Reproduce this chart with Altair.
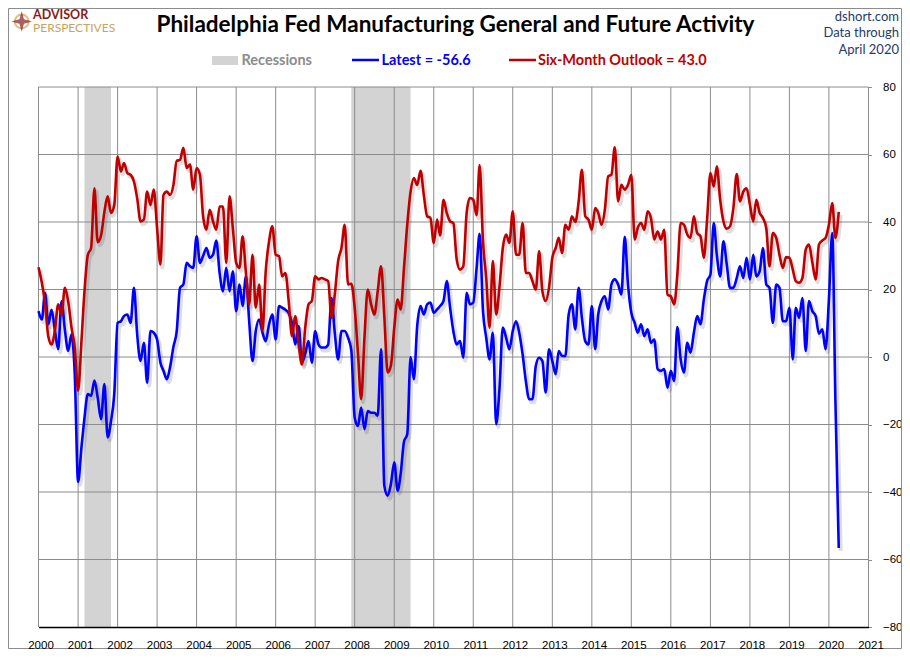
import altair as alt
import pandas as pd

# monthly readings, Jan 2000 .. Apr 2020
general = [
    13.6, 11.1, 19.0, 9.7, 14.0, 7.7, 2.3, 16.5, 8.0, 1.8,
    6.7, -5.0, -37.0, -26.8, -18.0, -11.0, -11.5, -7.0, -12.0, -18.4,
    -8.0, -23.8, -19.0, -11.0, 10.1, 10.6, 12.1, 12.6, 10.1, 20.5,
    6.7, -1.2, 4.2, -7.6, 7.7, 7.2, 5.2, -1.7, -4.1, -6.6,
    -3.0, 3.0, 7.5, 20.5, 21.5, 27.9, 26.9, 26.4, 35.8, 27.9,
    29.9, 32.3, 29.4, 30.3, 34.5, 24.9, 19.5, 26.4, 19.5, 25.4,
    13.6, 21.5, 15.1, 23.9, 10.6, -1.2, 7.7, 11.1, 7.2, 4.7,
    9.7, 12.6, 5.2, 15.1, 14.6, 14.0, 13.0, 10.0, 3.7, 9.2,
    -1.7, 1.0, 4.7, -1.7, 7.7, 3.7, 2.8, 2.8, 3.7, 17.5,
    7.2, -0.7, 7.7, 7.7, 5.7, 2.0, -17.9, -20.4, -15.0, -21.4,
    -16.0, -16.5, -16.5, -17.4, 2.3, -38.1, -41.1, -37.6, -31.2, -39.6,
    -34.7, -25.1, -22.9, 0.0, -6.6, 9.2, 15.1, 12.6, 15.6, 16.1,
    13.1, 14.1, 15.1, 16.6, 22.5, 14.6, 7.7, 3.7, 4.7, -0.2,
    19.0, 15.6, 16.1, 26.4, 36.5, 13.6, 5.7, -0.7, 7.2, -19.9,
    -9.1, 8.7, 5.7, 2.3, 7.7, 10.6, 7.2, 0.8, -7.1, -12.5,
    -12.5, -2.7, -0.2, -1.2, -10.5, 2.3, -1.2, -5.1, 1.8, 0.3,
    0.3, 12.6, 15.6, 8.2, 20.5, 11.6, 4.7, 3.7, 15.1, 2.3,
    12.6, 16.6, 18.0, 14.1, 21.5, 23.0, 21.5, 18.5, 35.6, 21.5,
    13.1, 10.1, 7.2, 9.7, 6.2, 8.2, 4.2, 5.2, -3.6, -4.1,
    -3.6, -9.1, -4.1, -7.1, 8.9, -0.7, -4.6, 4.2, 1.3, 7.2,
    12.1, 9.7, 17.0, 22.5, 24.4, 39.7, 30.3, 23.9, 34.3, 27.4,
    20.5, 20.5, 23.4, 26.9, 23.4, 29.4, 23.0, 30.3, 23.9, 25.4,
    32.3, 21.5, 20.5, 10.1, 21.5, 20.5, 10.6, 10.6, 14.6, -0.7,
    14.6, 11.6, 17.5, 1.8, 16.6, 13.6, 12.1, 6.9, 8.2, 2.3,
    17.0, 36.7, -12.7, -56.6,
]

outlook = [
    26.6, 22.0, 16.0, 6.0, 3.7, 8.0, 15.6, 12.6, 20.5, 16.5,
    8.7, 2.8, -10.0, 4.7, 19.5, 30.3, 32.3, 50.0, 34.0, 36.0,
    43.0, 47.6, 42.7, 45.0, 59.4, 55.0, 57.5, 54.5, 54.0, 52.0,
    47.0, 40.2, 40.7, 49.0, 45.0, 49.6, 38.2, 27.4, 48.0, 49.0,
    48.0, 51.0, 58.1, 58.4, 62.0, 56.0, 57.0, 49.6, 56.0, 54.0,
    41.7, 37.7, 43.6, 40.2, 37.7, 44.6, 44.6, 27.9, 47.6, 38.2,
    27.9, 26.4, 35.8, 24.9, 15.6, 30.3, 14.6, 21.5, 7.7, 25.4,
    34.3, 38.7, 30.3, 29.9, 23.9, 24.9, 16.6, 6.2, 12.1, 3.7,
    -2.2, 8.7, 15.6, 16.6, 23.9, 23.0, 23.4, 23.0, 22.5, 11.6,
    18.5, 28.4, 32.3, 39.2, 21.5, 21.7, 14.6, 0.8, -12.5, 6.0,
    20.0, 15.6, 12.6, 19.5, 26.9, 12.0, -4.6, -2.5, 8.7, 17.0,
    14.1, 26.4, 39.2, 49.0, 53.0, 51.0, 55.2, 48.0, 41.7, 41.2,
    33.8, 40.7, 36.0, 46.6, 42.7, 40.2, 39.7, 28.9, 25.9, 26.9,
    42.7, 47.1, 46.6, 42.0, 56.9, 34.3, 23.4, 8.7, 28.4, 12.6,
    21.0, 32.3, 36.3, 33.8, 43.2, 30.3, 30.3, 39.7, 24.9, 24.9,
    22.5, 20.0, 31.3, 19.5, 16.6, 20.5, 29.4, 32.3, 35.3, 30.8,
    39.2, 37.7, 41.7, 40.0, 46.0, 55.5, 41.7, 40.7, 37.7, 44.1,
    42.7, 39.2, 43.6, 53.5, 54.0, 62.1, 46.1, 51.0, 49.6, 51.0,
    54.0, 34.8, 38.2, 39.7, 37.7, 43.2, 41.2, 34.8, 37.2, 34.8,
    37.7, 18.5, 18.0, 15.6, 24.4, 39.7, 39.2, 36.3, 35.3, 41.7,
    36.7, 35.8, 29.4, 40.7, 54.5, 50.5, 56.5, 46.6, 40.2, 38.0,
    38.7, 44.1, 54.2, 46.1, 49.0, 50.0, 45.1, 40.2, 46.6, 42.7,
    41.2, 38.2, 26.9, 36.7, 35.3, 30.3, 26.4, 29.6, 29.4, 25.9,
    22.5, 22.0, 23.4, 31.8, 33.3, 28.0, 23.0, 33.3, 34.5, 35.3,
    39.2, 45.6, 35.3, 43.0,
]

rec_start = ["2001-03-01", "2007-12-01"]
rec_end = ["2001-11-01", "2009-06-01"]
years = list(range(2000, 2022))
grid_levels = list(range(-60, 81, 20))
y_ticks = list(range(-80, 81, 20))

W, H = 830, 540
GRID = "#8C8C8C"
BLUE = "#0000FF"
RED = "#C00000"
NAVY = "#1F3A70"

months = pd.date_range("2000-01-01", periods=len(general), freq="MS")
df = pd.concat([
    pd.DataFrame({"date": months, "value": general, "series": "General"}),
    pd.DataFrame({"date": months, "value": outlook, "series": "Outlook"}),
])
rec_df = pd.DataFrame({"start": rec_start, "end": rec_end})
year_df = pd.DataFrame({"date": [f"{y}-01-01" for y in years]})
level_df = pd.DataFrame({"value": grid_levels})

x_scale = alt.Scale(domain=[alt.DateTime(year=2000, month=1, date=1),
                            alt.DateTime(year=2021, month=1, date=1)])
y_scale = alt.Scale(domain=[-80, 80], nice=False)

x_axis = alt.Axis(
    values=[alt.DateTime(year=y, month=1, date=1) for y in years],
    format="%Y", grid=False, ticks=False, domainColor="black",
    domainWidth=1.5, labelFont="Liberation Sans", labelFontSize=11.5,
    labelColor="black", labelPadding=12, labelOffset=2,
    labelFlush=False, labelOverlap=False, zindex=1,
)
y_axis = alt.Axis(
    orient="right", values=y_ticks, grid=False, domain=False,
    tickSize=3, tickColor=GRID, labelFont="Liberation Sans",
    labelFontSize=11.5, labelColor="black", labelPadding=11,
    labelAlign="left", labelFlush=False, labelOverlap=False,
)

recessions = alt.Chart(rec_df).mark_rect(color="#D3D3D3").encode(
    x=alt.X("start:T", scale=x_scale, axis=x_axis, title=None),
    x2="end:T",
    y=alt.value(0),
    y2=alt.value(H),
)

vgrid = alt.Chart(year_df).mark_rule(color=GRID, strokeWidth=1).encode(
    x=alt.X("date:T", scale=x_scale, axis=x_axis, title=None),
    y=alt.value(0),
    y2=alt.value(H),
)

hgrid = alt.Chart(level_df).mark_rule(color=GRID, strokeWidth=1).encode(
    y=alt.Y("value:Q", scale=y_scale, axis=y_axis, title=None),
    x=alt.value(0),
    x2=alt.value(W),
)

shadow = alt.Chart(df).mark_line(
    interpolate="monotone", strokeWidth=4, color="#000000", opacity=0.13,
    xOffset=2, yOffset=3,
).encode(
    x=alt.X("date:T", scale=x_scale, axis=x_axis, title=None),
    y=alt.Y("value:Q", scale=y_scale, axis=y_axis, title=None),
    detail="series:N",
)

lines = alt.Chart(df).mark_line(interpolate="monotone", strokeWidth=2.6).encode(
    x=alt.X("date:T", scale=x_scale, axis=x_axis, title=None),
    y=alt.Y("value:Q", scale=y_scale, axis=y_axis, title=None),
    color=alt.Color("series:N", legend=None,
                    scale=alt.Scale(domain=["General", "Outlook"], range=[BLUE, RED])),
)


def text(t, x, y, size, color, weight="normal", align="left", font="Lato"):
    return alt.Chart(pd.DataFrame({"t": [t]})).mark_text(
        align=align, baseline="alphabetic", font=font, fontSize=size,
        fontWeight=weight, color=color,
    ).encode(x=alt.value(x), y=alt.value(y), text="t:N")


one = pd.DataFrame({"a": [0]})

frame = alt.Chart(one).mark_rect(filled=False, stroke="#8C8C8C", strokeWidth=1).encode(
    x=alt.value(-30), x2=alt.value(863), y=alt.value(-78.5), y2=alt.value(561.5)
)

title = text("Philadelphia Fed Manufacturing General and Future Activity",
             417, -55, 22.5, "black", "bold", "center")

logo_ring = alt.Chart(one).mark_point(
    shape="circle", size=190, stroke="#C9A45C", strokeWidth=2, filled=False
).encode(x=alt.value(-16.8), y=alt.value(-65.5))
logo_star = alt.Chart(one).mark_point(
    shape="M0,-1L0.22,-0.22L1,0L0.22,0.22L0,1L-0.22,0.22L-1,0L-0.22,-0.22Z",
    size=420, fill="#8B1A1A", filled=True, strokeWidth=0,
).encode(x=alt.value(-16.8), y=alt.value(-65.5))
advisor = text("ADVISOR", -5.5, -68.5, 12.5, "#8B1A1A", "bold")
perspectives = text("PERSPECTIVES", -5.5, -55.5, 12, "#C9A45C")

src1 = text("dshort.com", 860.5, -66.5, 13, NAVY, align="right")
src2 = text("Data through", 860.5, -50, 13, NAVY, align="right")
src3 = text("April 2020", 860.5, -33, 13, NAVY, align="right")

leg_rect = alt.Chart(one).mark_rect(color="#D3D3D3").encode(
    x=alt.value(173.5), x2=alt.value(199.5), y=alt.value(-31), y2=alt.value(-22)
)
leg_rec_txt = text("Recessions", 203, -22, 14.5, "#8C8C8C", "bold")
leg_blue = alt.Chart(one).mark_rule(color=BLUE, strokeWidth=2.5).encode(
    x=alt.value(313.5), x2=alt.value(340.5), y=alt.value(-27)
)
leg_blue_txt = text("Latest = -56.6", 343, -22, 14.5, BLUE, "bold")
leg_red = alt.Chart(one).mark_rule(color=RED, strokeWidth=2.5).encode(
    x=alt.value(470.5), x2=alt.value(497.5), y=alt.value(-27)
)
leg_red_txt = text("Six-Month Outlook = 43.0", 499.5, -22, 14.5, RED, "bold")

chart = alt.layer(
    recessions, vgrid, hgrid, shadow, lines,
    frame, title, logo_ring, logo_star, advisor, perspectives,
    src1, src2, src3,
    leg_rect, leg_rec_txt, leg_blue, leg_blue_txt, leg_red, leg_red_txt,
).properties(
    width=W, height=H,
    autosize=alt.AutoSizeParams(type="none"),
    padding={"left": 30.5, "top": 79, "right": 33.5, "bottom": 22},
    background="white",
).configure_view(strokeWidth=0)

chart.save("out.html", embed_options={"renderer": "svg", "actions": False})
